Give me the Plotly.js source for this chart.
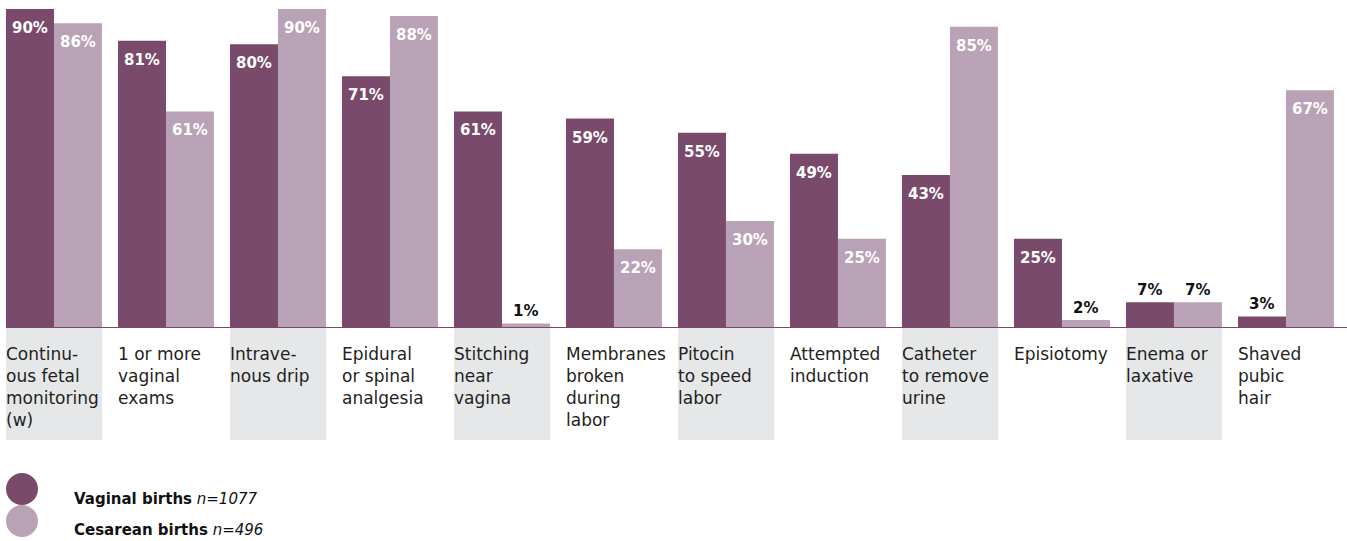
<!DOCTYPE html>
<html>
<head>
<meta charset="utf-8">
<script src="https://cdn.plot.ly/plotly-3.0.1.min.js"></script>
<style>html,body{margin:0;padding:0;background:#fff;}#chart{width:1347px;height:541px;}</style>
</head>
<body>
<div id="chart"></div>
<script>
const categories = ["Continu-<br>ous fetal<br>monitoring<br>(w)", "1 or more<br>vaginal<br>exams", "Intrave-<br>nous drip", "Epidural<br>or spinal<br>analgesia", "Stitching<br>near<br>vagina", "Membranes<br>broken<br>during<br>labor", "Pitocin<br>to speed<br>labor", "Attempted<br>induction", "Catheter<br>to remove<br>urine", "Episiotomy", "Enema or<br>laxative", "Shaved<br>pubic<br>hair"];
const vaginal = [90, 81, 80, 71, 61, 59, 55, 49, 43, 25, 7, 3];
const cesarean = [86, 61, 90, 88, 1, 22, 30, 25, 85, 2, 7, 67];
const seriesNames = ["Vaginal births", "Cesarean births"];
const seriesN = ["n=1077", "n=496"];

const DARK = "#7a4a6b", LIGHT = "#b9a2b5", GREY = "#e6e7e8", TXT = "#231f20";
const FONT = "DejaVu Sans, sans-serif";
const bargap = 16 / 112;
const barW = (1 - bargap) / 2;
const idx = categories.map((c, i) => i);

const traces = [vaginal, cesarean].map((vals, s) => ({
  type: "bar", x: idx, y: vals, name: seriesNames[s],
  marker: {color: s === 0 ? DARK : LIGHT, line: {width: 0}},
  showlegend: false, hoverinfo: "skip"
}));

const annotations = [];
const shapes = [];
[vaginal, cesarean].forEach((vals, s) => {
  vals.forEach((v, i) => {
    const inside = v >= 15;
    annotations.push({
      xref: "x", yref: "y", x: i + (s === 0 ? -barW / 2 : barW / 2), y: v,
      text: "<b>" + v + "%</b>", showarrow: false,
      xanchor: "center", yanchor: "middle", yshift: inside ? -19 : 12,
      font: {family: FONT, size: 15, color: inside ? "#ffffff" : "#111111"}
    });
  });
});
categories.forEach((c, i) => {
  if (i % 2 === 0) {
    shapes.push({type: "rect", xref: "x", yref: "paper", x0: i - barW, x1: i + barW,
      y0: -0.3456, y1: -0.003, fillcolor: GREY, line: {width: 0}, layer: "below"});
  }
  annotations.push({
    xref: "x", yref: "paper", x: i - barW, y: -0.047, xanchor: "left", yanchor: "top",
    xshift: -2, align: "left", text: c, showarrow: false,
    font: {family: FONT, size: 17, color: TXT}
  });
});
// legend
const legY = [[-0.5443, -0.4465], [-0.6422, -0.5443]];
const legTextY = [-0.5260, -0.6208];
[0, 1].forEach(s => {
  shapes.push({type: "circle", xref: "paper", yref: "paper", x0: 0, x1: 0.02386,
    y0: legY[s][0], y1: legY[s][1], fillcolor: s === 0 ? DARK : LIGHT, line: {width: 0}});
  annotations.push({xref: "paper", yref: "paper", x: 0.0492, y: legTextY[s],
    xanchor: "left", yanchor: "middle", showarrow: false,
    text: "<b>" + seriesNames[s] + "</b> <i>" + seriesN[s] + "</i>",
    font: {family: FONT, size: 15, color: "#111111"}});
});

const layout = {
  width: 1347, height: 541,
  margin: {l: 6, r: 0, t: 0, b: 214},
  paper_bgcolor: "#fff", plot_bgcolor: "#fff",
  barmode: "group", bargap: bargap, bargroupgap: 0,
  xaxis: {range: [-barW, 11.545], showticklabels: false, ticks: "", showgrid: false,
    zeroline: false, showline: true, linecolor: DARK, linewidth: 1, fixedrange: true},
  yaxis: {range: [0, 92.55], visible: false, showgrid: false, zeroline: false, fixedrange: true},
  annotations: annotations, shapes: shapes, showlegend: false
};
Plotly.newPlot("chart", traces, layout, {displayModeBar: false, staticPlot: true});
</script>
</body>
</html>
